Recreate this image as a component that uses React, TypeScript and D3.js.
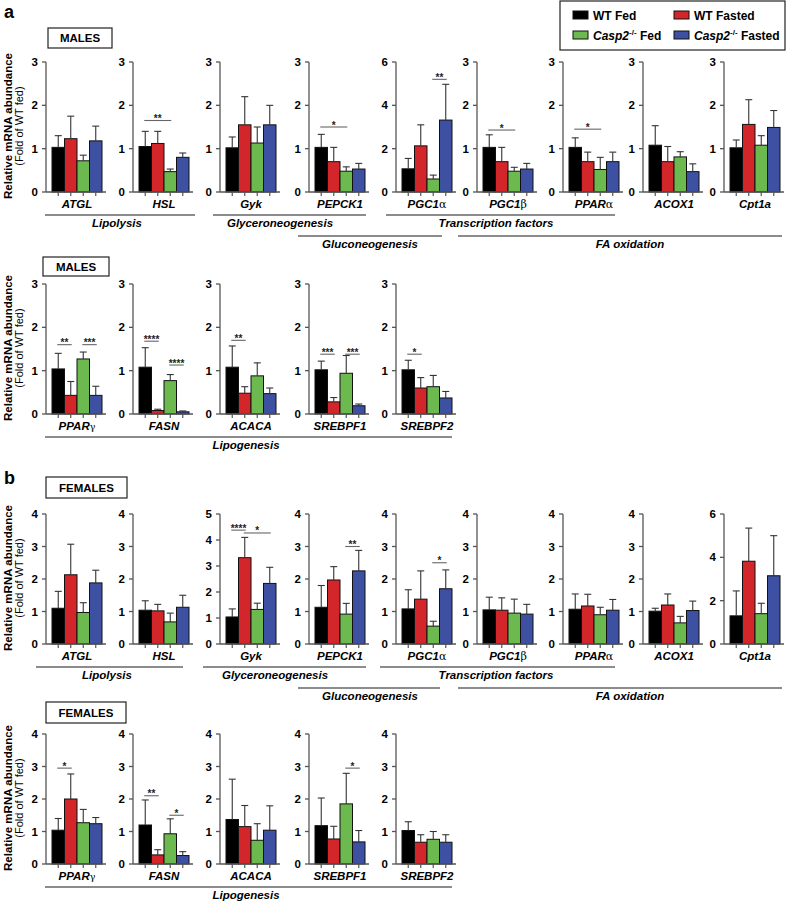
import React from "react";
import * as d3 from "d3";

const seriesNames = ["WT Fed", "WT Fasted", "Casp2 Fed", "Casp2 Fasted"];
const seriesColors = ["#000000", "#d3262b", "#6cb94f", "#3d50a2"];

const panelX = [46, 133, 220, 309, 396, 477, 563, 643, 724];

// ---- a, row 1 (males)
const genesA1 = ["ATGL", "HSL", "Gyk", "PEPCK1", "PGC1α", "PGC1β", "PPARα", "ACOX1", "Cpt1a"];
const maxA1 = [3, 3, 3, 3, 6, 3, 3, 3, 3];
const wtFedA1 = [1.03, 1.05, 1.02, 1.03, 1.07, 1.03, 1.03, 1.08, 1.02];
const wtFastedA1 = [1.23, 1.12, 1.55, 0.7, 2.13, 0.7, 0.7, 0.7, 1.56];
const koFedA1 = [0.72, 0.47, 1.13, 0.48, 0.6, 0.48, 0.52, 0.81, 1.08];
const koFastedA1 = [1.18, 0.8, 1.55, 0.53, 3.32, 0.53, 0.7, 0.47, 1.49];
const wtFedErrA1 = [1.3, 1.4, 1.27, 1.33, 1.55, 1.32, 1.25, 1.53, 1.2];
const wtFastedErrA1 = [1.75, 1.4, 2.2, 1.03, 3.1, 1.03, 0.92, 1.05, 2.13];
const koFedErrA1 = [0.85, 0.53, 1.5, 0.58, 0.78, 0.57, 0.8, 0.93, 1.3];
const koFastedErrA1 = [1.52, 0.9, 2.0, 0.66, 4.97, 0.66, 0.92, 0.65, 1.88];
const sigA1: [number, number, number, number, string][] = [
  [1, 0, 2, 1.65, "**"],
  [3, 0, 2, 1.5, "*"],
  [4, 2, 3, 5.2, "**"],
  [5, 0, 2, 1.43, "*"],
  [6, 0, 2, 1.45, "*"],
];

// ---- a, row 2 (males)
const genesA2 = ["PPARγ", "FASN", "ACACA", "SREBPF1", "SREBPF2"];
const maxA2 = [3, 3, 3, 3, 3];
const wtFedA2 = [1.04, 1.08, 1.08, 1.02, 1.02];
const wtFastedA2 = [0.43, 0.08, 0.48, 0.28, 0.6];
const koFedA2 = [1.27, 0.77, 0.88, 0.94, 0.63];
const koFastedA2 = [0.43, 0.05, 0.47, 0.19, 0.37];
const wtFedErrA2 = [1.4, 1.53, 1.57, 1.22, 1.24];
const wtFastedErrA2 = [0.75, 0.11, 0.63, 0.38, 0.84];
const koFedErrA2 = [1.43, 0.91, 1.18, 1.35, 0.89];
const koFastedErrA2 = [0.64, 0.07, 0.6, 0.23, 0.52];
const sigA2: [number, number, number, number, string][] = [
  [0, 0, 1, 1.6, "**"],
  [0, 2, 3, 1.6, "***"],
  [1, 0, 1, 1.68, "****"],
  [1, 2, 3, 1.13, "****"],
  [2, 0, 1, 1.7, "**"],
  [3, 0, 1, 1.38, "***"],
  [3, 2, 3, 1.38, "***"],
  [4, 0, 1, 1.38, "*"],
];

// ---- b, row 1 (females)
const genesB1 = ["ATGL", "HSL", "Gyk", "PEPCK1", "PGC1α", "PGC1β", "PPARα", "ACOX1", "Cpt1a"];
const maxB1 = [4, 4, 5, 4, 4, 4, 4, 4, 6];
const wtFedB1 = [1.1, 1.04, 1.04, 1.13, 1.08, 1.05, 1.07, 1.01, 1.3];
const wtFastedB1 = [2.13, 1.02, 3.32, 1.97, 1.38, 1.04, 1.17, 1.2, 3.82];
const koFedB1 = [0.97, 0.68, 1.33, 0.92, 0.55, 0.95, 0.9, 0.65, 1.4];
const koFastedB1 = [1.88, 1.13, 2.33, 2.25, 1.7, 0.92, 1.04, 1.03, 3.15];
const wtFedErrB1 = [1.62, 1.33, 1.35, 1.8, 1.67, 1.44, 1.54, 1.1, 2.45];
const wtFastedErrB1 = [3.07, 1.22, 4.1, 2.38, 2.25, 1.42, 1.53, 1.54, 5.35];
const koFedErrB1 = [1.27, 0.95, 1.57, 1.25, 0.7, 1.38, 1.13, 0.85, 1.88];
const koFastedErrB1 = [2.27, 1.5, 2.95, 2.88, 2.28, 1.22, 1.37, 1.32, 5.0];
const sigB1: [number, number, number, number, string][] = [
  [2, 0, 1, 4.38, "****"],
  [2, 1, 3, 4.27, "*"],
  [3, 2, 3, 3.0, "**"],
  [4, 2, 3, 2.5, "*"],
];

// ---- b, row 2 (females)
const genesB2 = ["PPARγ", "FASN", "ACACA", "SREBPF1", "SREBPF2"];
const maxB2 = [4, 4, 4, 4, 4];
const wtFedB2 = [1.04, 1.2, 1.37, 1.18, 1.03];
const wtFastedB2 = [2.0, 0.28, 1.15, 0.77, 0.67];
const koFedB2 = [1.27, 0.93, 0.73, 1.85, 0.76];
const koFastedB2 = [1.24, 0.26, 1.04, 0.68, 0.67];
const wtFedErrB2 = [1.4, 1.97, 2.61, 2.03, 1.3];
const wtFastedErrB2 = [2.77, 0.44, 1.8, 1.16, 0.9];
const koFedErrB2 = [1.68, 1.39, 1.24, 2.79, 1.0];
const koFastedErrB2 = [1.43, 0.38, 1.79, 1.03, 0.9];
const sigB2: [number, number, number, number, string][] = [
  [0, 0, 1, 2.95, "*"],
  [1, 0, 1, 2.1, "**"],
  [1, 2, 3, 1.5, "*"],
  [3, 2, 3, 2.95, "*"],
];

// group annotations: [label, x1, x2, labelX, level]
const groupsA1: [string, number, number, number, number][] = [
  ["Lipolysis", 45, 195, 117, 1],
  ["Glyceroneogenesis", 213, 366, 280, 1],
  ["Transcription factors", 386, 615, 496, 1],
  ["Gluconeogenesis", 298, 442, 370, 2],
  ["FA oxidation", 458, 782, 630, 2],
];
const groupsB1: [string, number, number, number, number][] = [
  ["Lipolysis", 36, 183, 107, 1],
  ["Glyceroneogenesis", 203, 366, 275, 1],
  ["Transcription factors", 380, 615, 496, 1],
  ["Gluconeogenesis", 298, 440, 370, 2],
  ["FA oxidation", 458, 782, 630, 2],
];
const groupsLipo: [string, number, number, number, number][] = [
  ["Lipogenesis", 45, 452, 246, 1],
];

const FONT = "'Liberation Sans', Arial, Helvetica, sans-serif";
const AXIS = "#555";
const PLOT_H = 130;

function GeneLabel({ x, y, name }: { x: number; y: number; name: string }) {
  const last = name[name.length - 1];
  const greek = "αβγ".includes(last);
  return (
    <text x={x} y={y} textAnchor="middle" fontFamily={FONT} fontSize={11.5} fontWeight="bold" fontStyle="italic">
      {greek ? name.slice(0, -1) : name}
      {greek && (
        <tspan fontWeight="normal" fontStyle="normal" fontFamily="'DejaVu Serif', serif" fontSize={last === "γ" ? 9.5 : 11}>
          {last}
        </tspan>
      )}
    </text>
  );
}

function Row({
  y0, genes, max, means, errs, sigs,
}: {
  y0: number; genes: string[]; max: number[]; means: number[][]; errs: number[][];
  sigs: [number, number, number, number, string][];
}) {
  return (
    <g>
      {genes.map((g, i) => {
        const ax = panelX[i];
        const y = d3.scaleLinear().domain([0, max[i]]).range([y0, y0 - PLOT_H]);
        const x = d3.scaleBand<number>().domain([0, 1, 2, 3]).range([ax + 6, ax + 56]).padding(0);
        const ticks = max[i] === 6 ? [0, 2, 4, 6] : d3.range(0, max[i] + 1);
        const bw = x.bandwidth();
        return (
          <g key={g + i}>
            {[0, 1, 2, 3].map((s) => (
              <rect key={"b" + s} x={x(s)} y={y(means[s][i])} width={bw} height={y0 - y(means[s][i])}
                fill={seriesColors[s]} stroke="#111" strokeWidth={1} />
            ))}
            {[0, 1, 2, 3].map((s) => {
              const cx = (x(s) as number) + bw / 2;
              return (
                <g key={"e" + s} stroke="#333" strokeWidth={1.1}>
                  <line x1={cx} x2={cx} y1={y(means[s][i])} y2={y(errs[s][i])} />
                  <line x1={cx - 3.5} x2={cx + 3.5} y1={y(errs[s][i])} y2={y(errs[s][i])} />
                </g>
              );
            })}
            <line x1={ax} x2={ax} y1={y0} y2={y0 - PLOT_H} stroke={AXIS} strokeWidth={1.3} />
            {ticks.map((t) => (
              <g key={"t" + t}>
                <line x1={ax - 4} x2={ax} y1={y(t)} y2={y(t)} stroke={AXIS} strokeWidth={1.3} />
                <text x={ax - 8} y={y(t) + 4} textAnchor="end" fontFamily={FONT} fontSize={11.5} fontWeight="bold">{t}</text>
              </g>
            ))}
            <line x1={ax} x2={ax + 60} y1={y0} y2={y0} stroke={AXIS} strokeWidth={1.3} />
            {[0, 1, 2, 3].map((s) => {
              const cx = (x(s) as number) + bw / 2;
              return <line key={"xt" + s} x1={cx} x2={cx} y1={y0} y2={y0 + 4} stroke={AXIS} strokeWidth={1.2} />;
            })}
            <GeneLabel x={ax + 31} y={y0 + 16} name={g} />
          </g>
        );
      })}
      {sigs.map(([p, a, b, v, lab], k) => {
        const ax = panelX[p];
        const y = d3.scaleLinear().domain([0, max[p]]).range([y0, y0 - PLOT_H]);
        const x = d3.scaleBand<number>().domain([0, 1, 2, 3]).range([ax + 6, ax + 56]).padding(0);
        const bw = x.bandwidth();
        const x1 = (x(a) as number) + bw / 2;
        const x2 = (x(b) as number) + bw / 2;
        return (
          <g key={"s" + k}>
            <line x1={x1 - 1} x2={x2 + 1} y1={y(v)} y2={y(v)} stroke="#666" strokeWidth={1.1} />
            <text x={(x1 + x2) / 2} y={y(v) + 1.5} textAnchor="middle" fontFamily={FONT} fontSize={10} fontWeight="bold" fill="#222">{lab}</text>
          </g>
        );
      })}
    </g>
  );
}

function Groups({ y0, groups }: { y0: number; groups: [string, number, number, number, number][] }) {
  return (
    <g>
      {groups.map(([lab, x1, x2, lx, lvl]) => {
        const ly = y0 + (lvl === 1 ? 23 : 44);
        return (
          <g key={lab}>
            <line x1={x1} x2={x2} y1={ly} y2={ly} stroke="#666" strokeWidth={1.3} />
            <text x={lx} y={ly + 12} textAnchor="middle" fontFamily={FONT} fontSize={11.5} fontWeight="bold" fontStyle="italic">{lab}</text>
          </g>
        );
      })}
    </g>
  );
}

function YTitle({ y0 }: { y0: number }) {
  const yc = y0 - 66;
  return (
    <g>
      <text transform={`translate(12,${yc}) rotate(-90)`} textAnchor="middle" fontFamily={FONT} fontSize={11.5} fontWeight="bold">Relative mRNA abundance</text>
      <text transform={`translate(23,${yc}) rotate(-90)`} textAnchor="middle" fontFamily={FONT} fontSize={11}>(Fold of WT fed)</text>
    </g>
  );
}

function SexBox({ x, y, w, h, label }: { x: number; y: number; w: number; h: number; label: string }) {
  return (
    <g>
      <rect x={x} y={y} width={w} height={h} fill="#fff" stroke="#222" strokeWidth={1.2} />
      <text x={x + w / 2} y={y + h / 2 + 4} textAnchor="middle" fontFamily={FONT} fontSize={11.5} fontWeight="bold">{label}</text>
    </g>
  );
}

function Legend() {
  const items = [
    { x: 573, y: 11, s: 0 },
    { x: 674, y: 11, s: 1 },
    { x: 573, y: 31, s: 2 },
    { x: 674, y: 31, s: 3 },
  ];
  return (
    <g>
      <rect x={560} y={1} width={225} height={49} fill="#fff" stroke="#222" strokeWidth={1.2} />
      {items.map((it) => (
        <g key={it.s}>
          <rect x={it.x} y={it.y} width={15} height={8} fill={seriesColors[it.s]} stroke="#111" strokeWidth={1} />
          <text x={it.x + 20} y={it.y + 8.5} fontFamily={FONT} fontSize={12} fontWeight="bold">
            {it.s < 2 ? seriesNames[it.s] : (
              <>
                <tspan fontStyle="italic">Casp2</tspan>
                <tspan fontSize={8} dy={-5}>-/-</tspan>
                <tspan dy={5}>{it.s === 2 ? " Fed" : " Fasted"}</tspan>
              </>
            )}
          </text>
        </g>
      ))}
    </g>
  );
}

export default function App() {
  const yA1 = 192, yA2 = 414, yB1 = 644, yB2 = 864;
  return (
    <svg width={787} height={903} style={{ position: "absolute", left: 0, top: 0, background: "#fff" }}>
      <rect width={787} height={903} fill="#fff" />
      <text x={4} y={18} fontFamily={FONT} fontSize={18} fontWeight="bold">a</text>
      <text x={4} y={484} fontFamily={FONT} fontSize={18} fontWeight="bold">b</text>
      <Legend />
      <SexBox x={48} y={28} w={64} h={20} label="MALES" />
      <SexBox x={43} y={257} w={66} h={19} label="MALES" />
      <SexBox x={46} y={477} w={81} h={21} label="FEMALES" />
      <SexBox x={46} y={702} w={80} h={21} label="FEMALES" />
      <YTitle y0={yA1} />
      <YTitle y0={yA2} />
      <YTitle y0={yB1} />
      <YTitle y0={yB2} />
      <Row y0={yA1} genes={genesA1} max={maxA1}
        means={[wtFedA1, wtFastedA1, koFedA1, koFastedA1]}
        errs={[wtFedErrA1, wtFastedErrA1, koFedErrA1, koFastedErrA1]} sigs={sigA1} />
      <Row y0={yA2} genes={genesA2} max={maxA2}
        means={[wtFedA2, wtFastedA2, koFedA2, koFastedA2]}
        errs={[wtFedErrA2, wtFastedErrA2, koFedErrA2, koFastedErrA2]} sigs={sigA2} />
      <Row y0={yB1} genes={genesB1} max={maxB1}
        means={[wtFedB1, wtFastedB1, koFedB1, koFastedB1]}
        errs={[wtFedErrB1, wtFastedErrB1, koFedErrB1, koFastedErrB1]} sigs={sigB1} />
      <Row y0={yB2} genes={genesB2} max={maxB2}
        means={[wtFedB2, wtFastedB2, koFedB2, koFastedB2]}
        errs={[wtFedErrB2, wtFastedErrB2, koFedErrB2, koFastedErrB2]} sigs={sigB2} />
      <Groups y0={yA1} groups={groupsA1} />
      <Groups y0={yA2} groups={groupsLipo} />
      <Groups y0={yB1} groups={groupsB1} />
      <Groups y0={yB2} groups={groupsLipo} />
    </svg>
  );
}
